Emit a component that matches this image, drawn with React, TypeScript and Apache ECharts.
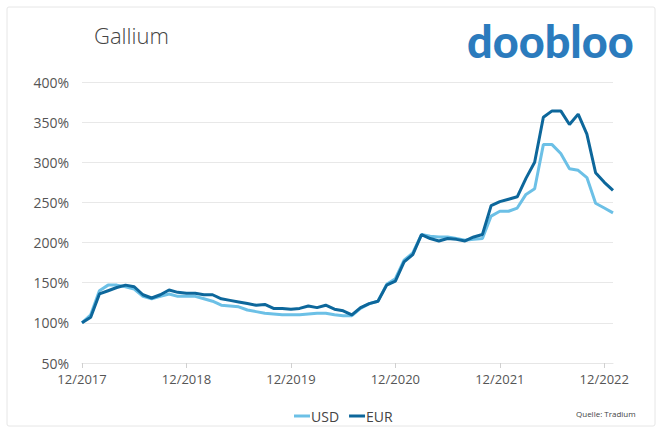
import React, { useEffect, useRef } from "react";
import * as echarts from "echarts";

const months: string[] = (() => {
  const out: string[] = [];
  let y = 2017;
  let m = 12;
  for (let i = 0; i < 62; i++) {
    out.push(String(m).padStart(2, "0") + "/" + y);
    m++;
    if (m > 12) { m = 1; y++; }
  }
  return out;
})();

const usd = [
  100, 110, 140, 147, 147, 145, 142, 133, 130, 133, 136, 133,
  133, 133, 130, 127, 122, 121, 120, 116, 114, 112, 111, 110,
  110, 110, 111, 112, 112, 110, 109, 109, 118, 124, 127, 148,
  155, 178, 187, 210, 208, 207, 207, 205, 203, 204, 205, 233,
  239, 239, 243, 260, 267, 322, 322, 311, 292, 290, 281, 249,
  243, 237,
];

const eur = [
  100, 107, 136, 140, 144, 147, 145, 135, 131, 135, 141, 138,
  137, 137, 135, 135, 130, 128, 126, 124, 122, 123, 118, 118,
  117, 118, 121, 119, 122, 117, 115, 110, 119, 124, 127, 147,
  152, 176, 185, 210, 205, 202, 205, 204, 202, 207, 210, 246,
  251, 254, 257, 280, 300, 356, 364, 364, 347, 360, 335, 287,
  275, 265,
];

const yTicks = { min: 50, max: 400, interval: 50 };

const FONT = "'Open Sans', 'Noto Sans', sans-serif";

export default function App() {
  const ref = useRef<HTMLDivElement>(null);
  useEffect(() => {
    document.body.style.margin = "0";
    const chart = echarts.init(ref.current!, undefined, { renderer: "svg" });
    chart.setOption({
      animation: false,
      backgroundColor: "#ffffff",
      textStyle: { fontFamily: FONT },
      graphic: [
        {
          type: "rect",
          shape: { x: 7, y: 7, width: 648, height: 419, r: 2 },
          style: { fill: "none", stroke: "#e6e6e6", lineWidth: 1 },
          z: -1,
        },
        {
          type: "text",
          left: 94,
          top: 24,
          style: { text: "Gallium", fontSize: 22, fontFamily: FONT, fontWeight: 300, fill: "#444444" },
        },
        {
          type: "text",
          left: 467,
          top: 18,
          style: { text: "doobloo", fontSize: 45, fontFamily: "Lato, 'Open Sans', sans-serif", fontWeight: 900, fill: "#2b7bbd" },
        },
        {
          type: "text",
          left: 576,
          top: 409,
          style: { text: "Quelle: Tradium", fontSize: 8, fontFamily: FONT, fill: "#444444" },
        },
      ],
      legend: {
        top: 404,
        left: 289,
        itemWidth: 16,
        itemHeight: 3,
        itemGap: 10,
        icon: "rect",
        textStyle: { fontSize: 14, color: "#444444", fontFamily: FONT, padding: [0, 0, 0, -4] },
        data: ["USD", "EUR"],
      },
      grid: { left: 82, right: 48, top: 82, bottom: 65 },
      xAxis: {
        type: "category",
        data: months,
        boundaryGap: false,
        axisLine: { lineStyle: { color: "#e6e6e6" } },
        axisTick: {
          show: true,
          interval: (i: number) => i % 12 === 0,
          length: 5,
          lineStyle: { color: "#d0d0d0" },
        },
        axisLabel: {
          interval: (i: number) => i % 12 === 0,
          fontSize: 13,
          color: "#555555",
          fontFamily: FONT,
          margin: 9,
        },
      },
      yAxis: {
        type: "value",
        min: yTicks.min,
        max: yTicks.max,
        interval: yTicks.interval,
        axisLine: { show: false },
        axisTick: { show: false },
        splitLine: { lineStyle: { color: "#e8e8e8" } },
        axisLabel: {
          formatter: "{value}%",
          fontSize: 14,
          color: "#555555",
          fontFamily: FONT,
          margin: 13,
        },
      },
      series: [
        {
          name: "USD",
          type: "line",
          data: usd,
          showSymbol: false,
          symbol: "none",
          lineStyle: { width: 3, color: "#6cc0e6" },
          itemStyle: { color: "#6cc0e6" },
        },
        {
          name: "EUR",
          type: "line",
          data: eur,
          showSymbol: false,
          symbol: "none",
          lineStyle: { width: 3, color: "#0d679b" },
          itemStyle: { color: "#0d679b" },
        },
      ],
    });
    return () => chart.dispose();
  }, []);
  return <div ref={ref} style={{ width: 661, height: 428, position: "absolute", left: 0, top: 0 }} />;
}
